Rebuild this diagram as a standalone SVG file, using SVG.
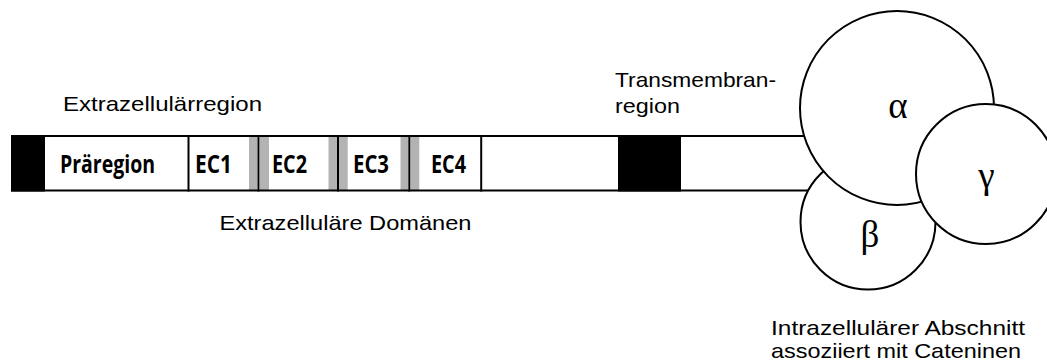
<svg xmlns="http://www.w3.org/2000/svg" width="1047" height="363" viewBox="0 0 1047 363">
<style>
.lbl{font-family:"Liberation Sans","Open Sans",sans-serif;font-size:21px;fill:#000}
.box{font-family:"Open Sans","Noto Sans",sans-serif;font-size:25px;font-weight:bold;fill:#000}
.greek{font-family:"Liberation Serif","DejaVu Serif",serif;font-size:37px;fill:#000;text-anchor:middle}
.ln{stroke:#000;stroke-width:2;fill:none}
.gray{fill:#b3b3b3}
.circ{fill:#fff;stroke:#000;stroke-width:2}
</style>
<rect width="1047" height="363" fill="#fff"/>
<g id="connectors">
<line class="ln" x1="681" y1="136" x2="805" y2="136"/>
<line class="ln" x1="681" y1="190.5" x2="809" y2="190.5"/>
</g>
<g id="bar">
<rect x="11" y="135" width="34" height="56.5" fill="#000"/>
<rect x="249" y="136" width="8.5" height="54.5" class="gray"/>
<rect x="260" y="136" width="9" height="54.5" class="gray"/>
<rect x="328.5" y="136" width="8.5" height="54.5" class="gray"/>
<rect x="339" y="136" width="8.7" height="54.5" class="gray"/>
<rect x="400.5" y="136" width="7.5" height="54.5" class="gray"/>
<rect x="410.5" y="136" width="8.8" height="54.5" class="gray"/>
<line class="ln" x1="11" y1="136" x2="681" y2="136"/>
<line class="ln" x1="11" y1="190.5" x2="681" y2="190.5"/>
<line class="ln" x1="188.5" y1="135" x2="188.5" y2="191.5"/>
<line class="ln" x1="258.5" y1="135" x2="258.5" y2="191.5"/>
<line class="ln" x1="338" y1="135" x2="338" y2="191.5"/>
<line class="ln" x1="409.3" y1="135" x2="409.3" y2="191.5" stroke-width="2.6"/>
<line class="ln" x1="481.2" y1="135" x2="481.2" y2="191.5"/>
<rect x="618" y="135" width="63" height="56.5" fill="#000"/>
<text class="box" x="60" y="173" textLength="95" lengthAdjust="spacingAndGlyphs">Präregion</text>
<text class="box" x="195" y="173" textLength="37" lengthAdjust="spacingAndGlyphs">EC1</text>
<text class="box" x="272" y="173" textLength="35" lengthAdjust="spacingAndGlyphs">EC2</text>
<text class="box" x="353" y="173" textLength="36" lengthAdjust="spacingAndGlyphs">EC3</text>
<text class="box" x="431" y="173" textLength="35" lengthAdjust="spacingAndGlyphs">EC4</text>
</g>
<g id="beta">
<circle class="circ" cx="868" cy="222" r="67.5"/>
<text class="greek" x="870" y="247">β</text>
</g>
<g id="alpha">
<circle class="circ" cx="897" cy="108" r="97"/>
<text class="greek" x="898" y="118">α</text>
</g>
<g id="gamma">
<circle class="circ" cx="986" cy="174" r="70"/>
<text class="greek" x="986.5" y="188">γ</text>
</g>
<g id="labels">
<text class="lbl" x="63" y="110.5" textLength="199" lengthAdjust="spacingAndGlyphs">Extrazellulärregion</text>
<text class="lbl" x="615" y="86.5" textLength="161" lengthAdjust="spacingAndGlyphs">Transmembran-</text>
<text class="lbl" x="615" y="113.3" textLength="65" lengthAdjust="spacingAndGlyphs">region</text>
<text class="lbl" x="219.5" y="230" textLength="252" lengthAdjust="spacingAndGlyphs">Extrazelluläre Domänen</text>
<text class="lbl" x="771" y="334.5" textLength="254" lengthAdjust="spacingAndGlyphs">Intrazellulärer Abschnitt</text>
<text class="lbl" x="771" y="358" textLength="250" lengthAdjust="spacingAndGlyphs">assoziiert mit Cateninen</text>
</g>
</svg>
